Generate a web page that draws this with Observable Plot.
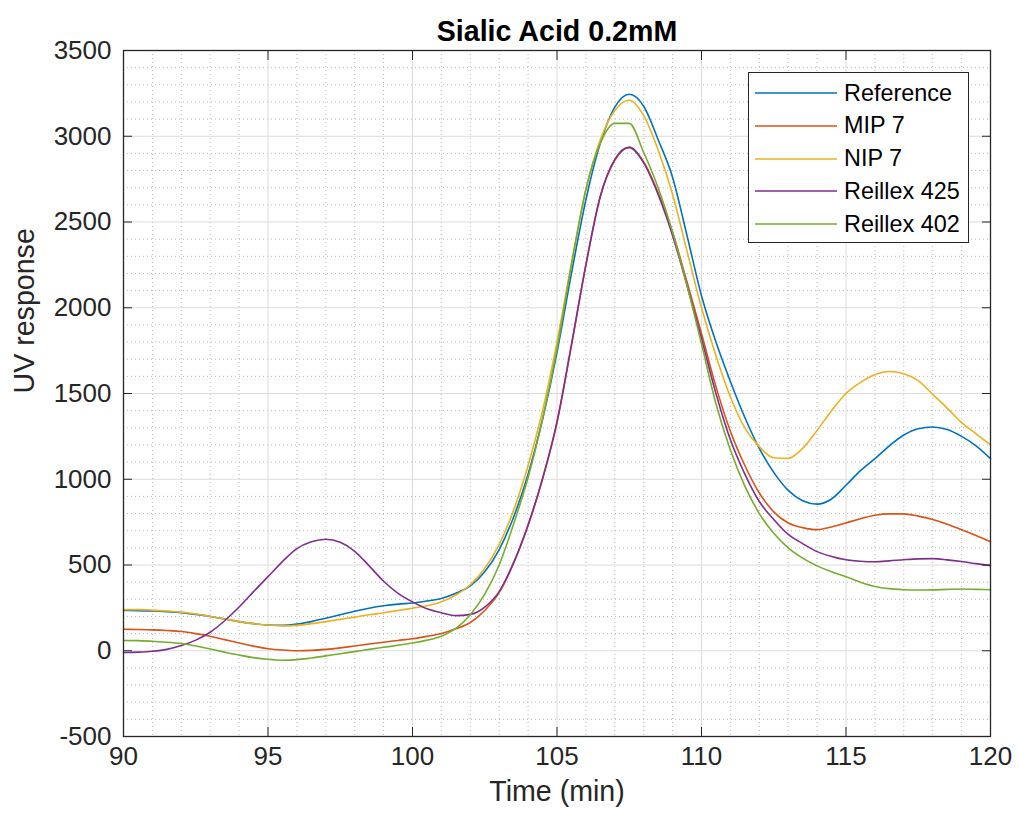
<!DOCTYPE html>
<html>
<head>
<meta charset="utf-8">
<script src="https://cdn.jsdelivr.net/npm/d3@7"></script>
<script src="https://cdn.jsdelivr.net/npm/@observablehq/plot@0.6"></script>
<style>
  html, body { margin: 0; padding: 0; background: #fff; }
  #chart { position: relative; width: 1019px; height: 822px;
           font-family: "Liberation Sans", Arial, Helvetica, sans-serif; }
  #chart > svg { display: block; }
  .legend { position: absolute; left: 748px; top: 72px; width: 221px; height: 171px;
            box-sizing: border-box; border: 1.3px solid #262626; background: #fff; }
  .legend .row { position: absolute; left: 0; height: 32px; display: flex; align-items: center; }
  .legend .swatch { display: block; margin-left: 6px; }
  .legend .name { margin-left: 7px; font-size: 23.4px; color: #000; white-space: nowrap; }
</style>
</head>
<body>
<div id="chart"></div>
<script>
// Sampling times (min)
const time = [
  90, 90.5, 91, 91.5, 92, 92.5, 93, 93.5, 94, 94.5,
  95, 95.5, 96, 96.5, 97, 97.5, 98, 98.5, 99, 99.5,
  100, 100.5, 101, 101.5, 102, 102.5, 103, 103.5, 104, 104.5,
  105, 105.5, 106, 106.5, 107, 107.5, 108, 108.5, 109, 109.5,
  110, 110.5, 111, 111.5, 112, 112.5, 113, 113.5, 114, 114.5,
  115, 115.5, 116, 116.5, 117, 117.5, 118, 118.5, 119, 119.5, 120
];

// UV response of each column
const reference = [
  235, 234, 232, 228, 222, 212, 200, 185, 170, 158,
  150, 148, 155, 170, 190, 210, 230, 248, 262, 272,
  278, 290, 305, 335, 378, 460, 590, 780, 1030, 1350,
  1740, 2200, 2630, 2960, 3170, 3245, 3175, 2980, 2760, 2420,
  2070, 1800, 1570, 1360, 1180, 1040, 935, 875, 855, 885,
  965, 1050, 1120, 1195, 1258, 1295, 1305, 1290, 1250, 1195, 1120
];
const mip7 = [
  125, 124, 122, 118, 112, 100, 85, 65, 45, 27,
  12, 4, 0, 2, 8, 17, 28, 39, 50, 60,
  70, 84, 100, 128, 165, 235, 340, 510, 730, 1000,
  1330, 1780, 2250, 2650, 2860, 2935, 2850, 2670, 2440, 2150,
  1850, 1540, 1280, 1080, 920, 810, 745, 718, 706, 722,
  745, 770, 790, 798, 798, 785, 765, 738, 706, 672, 636
];
const nip7 = [
  240, 240, 237, 232, 225, 214, 200, 185, 170, 158,
  150, 145, 148, 158, 170, 183, 196, 210, 222, 235,
  248, 262, 285, 325, 385, 480, 620, 820, 1080, 1400,
  1800, 2260, 2690, 2980, 3150, 3210, 3120, 2920, 2660, 2330,
  2000, 1720, 1480, 1300, 1190, 1125, 1122, 1180, 1285, 1400,
  1500, 1565, 1610, 1628, 1615, 1575, 1495, 1415, 1330, 1265, 1200
];
const reillex425 = [
  -10, -8, -3, 8, 30, 62, 108, 175, 255, 345,
  432, 520, 595, 635, 650, 632, 580, 495, 405, 335,
  285, 245, 222, 205, 212, 255, 345, 515, 735, 1005,
  1335, 1785, 2250, 2650, 2865, 2935, 2845, 2660, 2420, 2130,
  1820, 1500, 1230, 1030, 870, 765, 678, 625, 578, 550,
  531, 522, 519, 524, 531, 536, 537, 530, 520, 508, 496
];
const reillex402 = [
  60, 59, 55, 50, 42, 28, 10, -8, -25, -40,
  -50, -55, -52, -42, -30, -17, -5, 8, 20, 32,
  45, 62, 85, 130, 210, 330, 500, 740, 1010, 1350,
  1760, 2250, 2690, 2960, 3075, 3075, 2905, 2700, 2440, 2130,
  1790, 1440, 1170, 960, 800, 685, 600, 540, 495, 460,
  432, 400, 375, 362, 356, 354, 355, 358, 360, 358, 356
];

const seriesNames = ["Reference", "MIP 7", "NIP 7", "Reillex 425", "Reillex 402"];
const seriesValues = [reference, mip7, nip7, reillex425, reillex402];
const seriesColors = ["#0072BD", "#D95319", "#EDB120", "#7E2F8E", "#77AC30"];

// Axis ticks
const xTicks = [90, 95, 100, 105, 110, 115, 120];
const yTicks = [-500, 0, 500, 1000, 1500, 2000, 2500, 3000, 3500];
const xMinor = d3.range(90, 121, 1).filter(v => v % 5 !== 0);
const yMinor = d3.range(-500, 3501, 100).filter(v => v % 500 !== 0);

const rows = seriesNames.flatMap((name, s) =>
  time.map((t, i) => ({time: t, value: seriesValues[s][i], series: name}))
);

const ink = "#262626";
const fmt = d => String(d);

const chart = Plot.plot({
  width: 1019,
  height: 822,
  marginLeft: 123,
  marginRight: 29,
  marginTop: 50,
  marginBottom: 86,
  style: {
    fontFamily: '"Liberation Sans", Arial, Helvetica, sans-serif',
    fontSize: "26px",
    color: ink,
    background: "#fff",
    overflow: "visible"
  },
  x: {domain: [90, 120], label: null},
  y: {domain: [-500, 3500], label: null},
  color: {domain: seriesNames, range: seriesColors},
  marks: [
    // minor (dotted) and major (solid) grid
    Plot.gridX(xMinor, {stroke: "#b8b8b8", strokeOpacity: 1, strokeDasharray: "1,3"}),
    Plot.gridY(yMinor, {stroke: "#b8b8b8", strokeOpacity: 1, strokeDasharray: "1,3"}),
    Plot.gridX(xTicks, {stroke: "#dcdcdc", strokeOpacity: 1}),
    Plot.gridY(yTicks, {stroke: "#dcdcdc", strokeOpacity: 1}),
    // chromatogram traces
    Plot.line(rows, {x: "time", y: "value", z: "series", stroke: "series",
                     strokeWidth: 1.6, curve: "monotone-x"}),
    Plot.frame({stroke: ink, strokeWidth: 1.3}),
    // inward ticks on all four sides
    Plot.axisX(xTicks, {anchor: "bottom", tickSize: 9, dy: -9, fill: "none", label: null, stroke: ink}),
    Plot.axisX(xTicks, {anchor: "top", tickSize: 9, dy: 9, fill: "none", label: null, stroke: ink}),
    Plot.axisY(yTicks, {anchor: "left", tickSize: 9, dx: 9, fill: "none", label: null, stroke: ink}),
    Plot.axisY(yTicks, {anchor: "right", tickSize: 9, dx: -9, fill: "none", label: null, stroke: ink}),
    // tick labels
    Plot.axisX(xTicks, {anchor: "bottom", tickSize: 0, tickPadding: 10, tickFormat: fmt, label: null}),
    Plot.axisY(yTicks, {anchor: "left", tickSize: 0, tickPadding: 12, tickFormat: fmt, label: null}),
    // axis titles and chart title
    Plot.text(["Time (min)"], {frameAnchor: "bottom", dy: 64, fontSize: 28.6, fill: ink}),
    Plot.text(["UV response"], {frameAnchor: "left", dx: -99, rotate: -90, fontSize: 28.6, fill: ink}),
    Plot.text(["Sialic Acid 0.2mM"], {frameAnchor: "top", dy: -30, fontSize: 28.6, fontWeight: "bold", fill: "#000"})
  ]
});

const host = document.getElementById("chart");
host.appendChild(chart);

// Legend box in the upper right of the axes
const svgNS = "http://www.w3.org/2000/svg";
const legend = document.createElement("div");
legend.className = "legend";
seriesNames.forEach((name, i) => {
  const row = document.createElement("div");
  row.className = "row";
  row.style.top = (4 + i * 32.8) + "px";
  const sw = document.createElementNS(svgNS, "svg");
  sw.setAttribute("class", "swatch");
  sw.setAttribute("width", "82");
  sw.setAttribute("height", "10");
  const ln = document.createElementNS(svgNS, "line");
  ln.setAttribute("x1", "0");
  ln.setAttribute("x2", "82");
  ln.setAttribute("y1", "5");
  ln.setAttribute("y2", "5");
  ln.setAttribute("stroke", seriesColors[i]);
  ln.setAttribute("stroke-width", "1.6");
  sw.appendChild(ln);
  const label = document.createElement("span");
  label.className = "name";
  label.textContent = name;
  row.appendChild(sw);
  row.appendChild(label);
  legend.appendChild(row);
});
host.appendChild(legend);
</script>
</body>
</html>
